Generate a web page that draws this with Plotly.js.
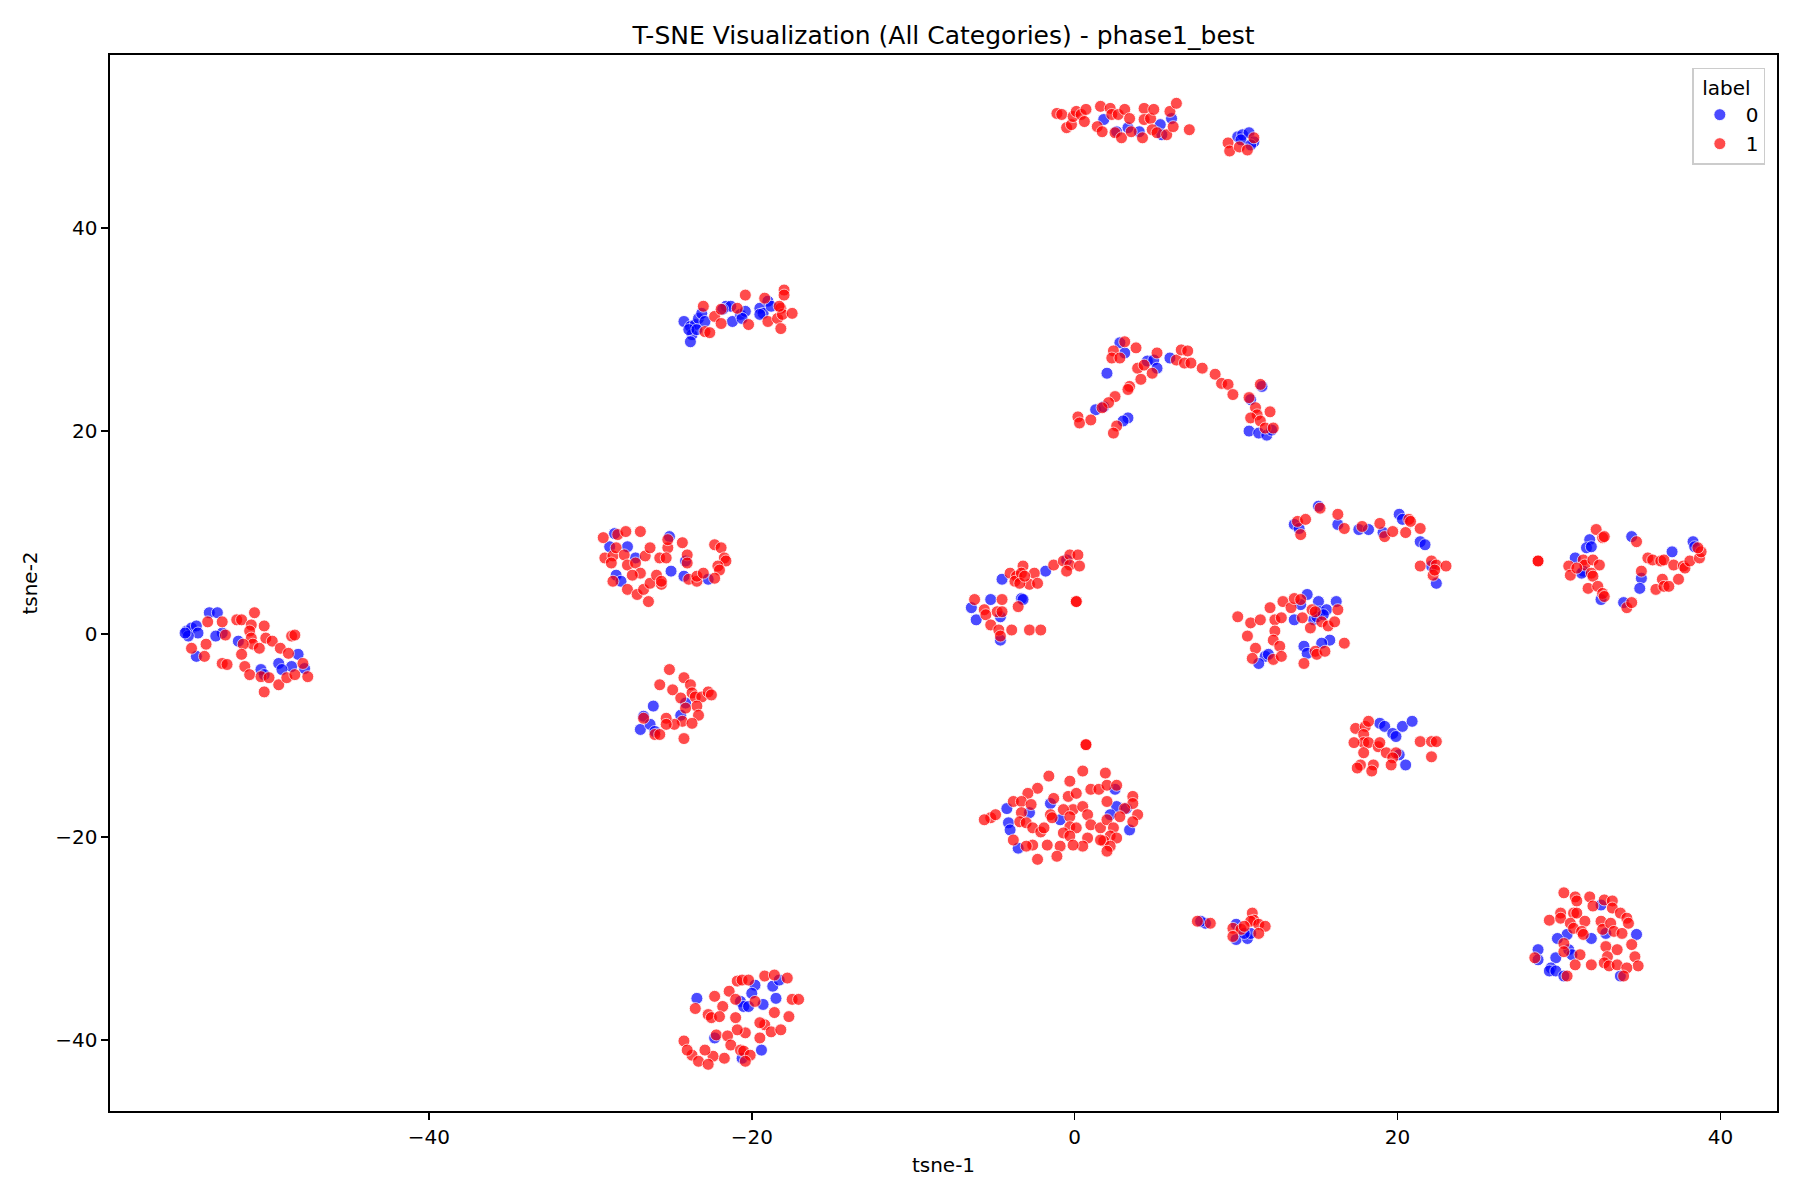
<!DOCTYPE html>
<html>
<head>
<meta charset="utf-8">
<script src="https://cdn.plot.ly/plotly-3.0.1.min.js"></script>
<style>
  html, body { margin: 0; padding: 0; background: #ffffff; }
  #tsneChart { width: 1800px; height: 1200px; }
</style>
</head>
<body>
<div id="tsneChart"></div>
<script>
// t-SNE embedding, [tsne-1, tsne-2] per point
var label0Points = [
    // left group
    [-53.6, 2.1], [-53.1, 2.1], [-55.0, 0.3], [-54.7, 0.6], [-54.4, 0.8], [-54.3, 0.1], [-54.9, -0.2], [-55.1, 0.1],
    [-52.8, 0.1], [-53.2, -0.2], [-51.8, -0.7], [-54.4, -2.2], [-50.4, -3.5], [-49.3, -2.9], [-48.5, -3.2], [-48.1, -2.0],
    [-47.7, -3.4], [-49.1, -3.5], [-50.2, -4.0],
    // (-20, 31)
    [-24.2, 30.8], [-23.8, 30.3], [-23.5, 30.5], [-23.3, 31.1], [-23.1, 31.6], [-22.9, 30.8], [-23.7, 29.5], [-23.8, 28.8],
    [-23.9, 30.0], [-23.4, 30.0], [-21.6, 32.3], [-21.3, 32.3], [-21.8, 32.0], [-21.2, 30.8], [-20.7, 31.5], [-20.4, 31.8],
    [-20.6, 31.1], [-19.5, 32.1], [-19.3, 31.6], [-19.0, 32.8], [-18.8, 32.3], [-19.5, 31.5],
    // (-25, 7)
    [-28.5, 9.9], [-28.8, 8.6], [-27.7, 8.6], [-27.2, 7.5], [-28.4, 5.8], [-28.1, 5.2], [-25.1, 9.6], [-25.0, 6.2],
    [-24.2, 5.7], [-22.7, 5.4], [-24.1, 7.2],
    // (-25, -8)
    [-26.1, -7.1], [-26.7, -8.1], [-26.9, -9.4], [-26.3, -8.9], [-24.1, -6.8], [-24.4, -8.0], [-26.0, -9.6],
    // (-20, -38)
    [-23.4, -35.9], [-22.3, -39.8], [-19.8, -34.6], [-20.0, -35.4], [-20.7, -36.2], [-20.5, -36.7], [-20.2, -36.7],
    [-19.3, -36.5], [-18.7, -34.7], [-18.5, -35.9], [-18.3, -34.1], [-19.4, -41.0], [-20.6, -41.8],
    // top (3, 50) and (10, 48)
    [1.8, 50.7], [2.6, 49.5], [3.3, 49.9], [4.0, 49.5], [5.3, 50.2], [5.4, 49.2], [6.0, 50.8],
    [10.1, 49.0], [10.4, 49.2], [10.8, 49.4], [11.1, 48.5], [10.3, 48.7], [10.9, 48.2],
    // arch (6, 24)
    [2.8, 28.7], [3.1, 27.7], [2.0, 25.7], [1.3, 22.1], [1.8, 22.4], [3.3, 21.3], [3.0, 21.0], [4.5, 26.9], [4.9, 27.0],
    [5.1, 26.2], [5.9, 27.2], [11.6, 24.4], [10.9, 23.1], [10.8, 20.0], [11.4, 19.8], [11.9, 19.6], [12.2, 20.1],
    // (-3, 4)
    [-4.5, 5.4], [-1.8, 6.2], [-0.5, 7.3], [-6.4, 2.6], [-6.1, 1.4], [-5.2, 3.4], [-4.6, 1.7], [-3.3, 3.5], [-3.2, 3.4],
    [-4.6, -0.6],
    // (14, 0)
    [14.4, 3.9], [15.1, 3.2], [15.2, 2.2], [15.6, 2.4], [16.2, 3.2], [14.0, 2.9], [13.6, 1.4], [14.8, 1.4], [15.0, 1.7],
    [15.4, 1.9], [15.8, -0.6], [15.3, -0.9], [14.2, -1.2], [14.4, -1.9], [11.8, -2.2], [12.0, -2.0], [11.4, -2.9],
    // (0, -18)
    [-4.2, -17.2], [-4.1, -18.6], [-4.0, -19.3], [-3.5, -21.1], [-2.8, -17.6], [-1.5, -16.7], [-0.9, -18.3], [2.5, -15.3],
    [2.6, -17.0], [2.2, -17.8], [3.4, -19.3], [3.2, -17.2],
    // (10, -29)
    [8.1, -28.5], [7.8, -28.3], [10.0, -28.6], [10.0, -30.1], [10.7, -30.0], [10.9, -29.5], [10.5, -29.5],
    // arc (18, 10)
    [13.6, 10.8], [13.9, 10.4], [15.1, 12.6], [16.3, 10.8], [17.6, 10.3], [18.2, 10.3], [19.1, 10.0], [20.1, 11.8],
    [20.3, 11.3], [21.4, 9.1], [21.7, 8.8], [22.4, 5.0], [22.1, 6.7],
    // (19, -11)
    [18.9, -8.8], [19.2, -9.1], [19.7, -9.8], [19.9, -10.1], [20.3, -9.1], [20.9, -8.6], [20.1, -11.9], [20.5, -12.9],
    // (34, 6)
    [31.9, 9.3], [31.7, 8.5], [32.0, 8.6], [31.0, 7.5], [31.5, 6.2], [31.4, 6.0], [32.6, 3.4], [34.0, 3.1], [34.5, 9.6],
    [35.1, 5.5], [35.0, 4.5], [37.0, 8.1], [38.3, 9.1], [38.4, 8.6],
    // (32, -30)
    [32.6, -26.7], [32.0, -30.0], [32.9, -29.5], [34.8, -29.6], [30.5, -29.6], [29.9, -30.0], [30.6, -31.1], [30.8, -31.6],
    [29.8, -31.9], [28.7, -31.1], [28.7, -32.1], [29.5, -32.9], [29.4, -33.2], [29.8, -33.2], [30.3, -33.7], [33.8, -33.7]
];

var label1Points = [
    // left group
    [-51.9, 1.4], [-51.6, 1.4], [-50.8, 2.1], [-52.8, 1.2], [-53.7, 1.2], [-51.0, 0.9], [-50.2, 0.8], [-51.1, 0.3],
    [-51.0, -0.4], [-50.9, -1.0], [-50.5, -1.4], [-50.1, -0.4], [-49.7, -0.7], [-49.2, -1.4], [-48.7, -1.9], [-48.5, -0.2],
    [-48.3, -0.1], [-51.5, -1.0], [-51.6, -2.0], [-51.4, -3.2], [-51.1, -4.0], [-50.4, -4.2], [-49.9, -4.3], [-49.3, -5.0],
    [-50.2, -5.7], [-48.8, -4.3], [-48.3, -4.0], [-47.5, -4.2], [-47.8, -2.9], [-52.8, -2.9], [-52.5, -3.0], [-53.8, -1.0],
    [-53.9, -2.2], [-54.7, -1.4], [-52.6, -0.1],
    // (-20, 31)
    [-23.0, 32.3], [-22.9, 29.8], [-22.6, 29.7], [-22.3, 31.3], [-21.9, 30.6], [-21.9, 32.0], [-20.4, 33.4], [-20.2, 30.5],
    [-19.2, 33.1], [-19.0, 30.8], [-18.4, 31.1], [-18.2, 32.1], [-18.1, 31.5], [-18.0, 33.9], [-18.0, 33.4], [-17.5, 31.6],
    [-18.2, 30.1], [-18.3, 32.3], [-20.9, 32.1],
    // (-25, 7)
    [-29.2, 9.5], [-28.3, 9.8], [-27.8, 10.1], [-26.9, 10.1], [-29.1, 7.5], [-28.6, 7.7], [-28.7, 7.0], [-28.4, 8.5],
    [-27.9, 7.8], [-27.7, 6.8], [-27.2, 7.0], [-26.9, 6.0], [-26.6, 7.7], [-26.3, 8.5], [-27.4, 5.8], [-28.6, 5.2],
    [-27.7, 4.4], [-27.1, 3.9], [-26.4, 3.2], [-26.7, 4.4], [-26.3, 5.0], [-25.9, 5.8], [-25.6, 4.9], [-25.7, 7.5],
    [-25.2, 8.5], [-25.2, 9.3], [-25.3, 7.5], [-24.3, 9.0], [-24.0, 7.8], [-24.0, 7.0], [-23.9, 5.4], [-23.4, 5.2],
    [-23.4, 5.7], [-23.0, 6.0], [-22.3, 8.8], [-21.9, 8.5], [-21.7, 7.5], [-21.6, 7.2], [-22.1, 6.7], [-22.0, 6.3],
    [-22.3, 5.5], [-25.6, 5.2],
    // (-25, -8)
    [-25.1, -3.5], [-25.7, -5.0], [-24.9, -5.5], [-24.2, -4.3], [-23.8, -5.0], [-23.7, -5.8], [-23.5, -6.2], [-23.1, -6.2],
    [-22.7, -5.7], [-22.5, -6.0], [-23.4, -7.1], [-23.3, -8.0], [-24.4, -6.3], [-24.1, -7.3], [-24.3, -8.6], [-24.8, -8.9],
    [-25.3, -8.3], [-25.3, -8.9], [-26.0, -9.9], [-25.7, -9.9], [-26.7, -8.3], [-23.7, -8.8], [-24.2, -10.3],
    // (-20, -38)
    [-23.5, -36.9], [-22.3, -35.7], [-22.7, -37.5], [-22.5, -37.8], [-21.8, -36.7], [-21.4, -35.2], [-20.9, -34.2],
    [-20.6, -34.1], [-20.2, -34.1], [-19.2, -33.7], [-18.6, -33.6], [-17.8, -33.9], [-17.5, -36.0], [-17.1, -36.0],
    [-19.8, -36.2], [-21.0, -37.8], [-22.0, -37.7], [-18.6, -37.3], [-17.7, -37.7], [-19.2, -38.5], [-19.5, -38.3],
    [-18.8, -39.2], [-18.2, -39.0], [-19.5, -39.8], [-20.4, -39.3], [-20.9, -39.0], [-22.2, -39.5], [-21.5, -39.6],
    [-21.3, -40.5], [-20.7, -41.0], [-20.5, -41.1], [-20.1, -41.5], [-21.7, -41.8], [-22.4, -41.6], [-22.9, -41.0],
    [-23.7, -41.5], [-24.2, -40.1], [-24.0, -41.0], [-23.3, -42.1], [-22.7, -42.4], [-20.4, -42.1], [-21.0, -36.0],
    // top (3, 50) and (10, 48)
    [-1.1, 51.3], [-0.8, 51.2], [-0.5, 49.9], [-0.2, 50.2], [-0.1, 51.0], [0.1, 51.5], [0.4, 51.2], [0.7, 51.7],
    [0.6, 50.5], [1.4, 50.0], [1.6, 52.0], [1.7, 49.5], [2.2, 51.8], [2.3, 51.2], [2.5, 49.4], [2.7, 51.2], [2.9, 48.9],
    [3.1, 51.7], [3.4, 50.8], [3.5, 49.5], [4.2, 48.9], [4.3, 51.8], [4.3, 50.7], [4.7, 50.8], [4.9, 51.7], [4.8, 49.7],
    [5.1, 49.4], [5.7, 49.2], [5.9, 51.5], [6.1, 50.0], [6.3, 52.3], [7.1, 49.7],
    [9.5, 48.4], [9.6, 47.6], [10.2, 48.0], [10.7, 47.7], [11.1, 48.9],
    // arch (6, 24)
    [2.4, 27.9], [2.3, 27.2], [2.8, 27.2], [3.1, 28.8], [3.8, 28.2], [3.9, 26.2], [4.3, 26.5], [4.8, 25.7], [5.1, 27.7],
    [4.1, 25.1], [3.4, 24.4], [3.3, 24.1], [2.5, 23.4], [2.1, 22.8], [1.7, 22.3], [0.2, 21.4], [0.3, 20.8], [1.0, 21.1],
    [2.6, 20.5], [2.4, 19.8], [6.3, 27.0], [6.6, 28.0], [7.0, 27.9], [6.8, 26.7], [7.2, 26.7], [7.9, 26.2], [8.7, 25.6],
    [9.1, 24.7], [9.5, 24.6], [9.8, 23.6], [10.8, 23.3], [11.2, 22.3], [11.3, 21.6], [12.1, 21.9], [11.5, 24.6],
    [10.9, 21.3], [11.5, 21.0], [11.8, 20.3], [12.3, 20.3],
    // (-3, 4)
    [-6.2, 3.4], [-5.6, 2.4], [-5.5, 1.9], [-4.8, 2.2], [-4.5, 2.2], [-4.5, 3.4], [-5.2, 0.9], [-4.7, 0.4], [-4.6, -0.2],
    [-4.0, 6.0], [-3.6, 5.7], [-3.7, 5.2], [-3.2, 6.7], [-3.3, 6.0], [-2.8, 4.9], [-2.5, 6.0], [-2.3, 5.0], [-1.3, 6.8],
    [-0.7, 7.2], [-0.3, 7.8], [0.2, 7.8], [-0.3, 6.8], [-0.5, 6.2], [0.3, 6.7], [-3.5, 2.7], [-3.9, 0.4], [-2.8, 0.4],
    [-2.1, 0.4], [0.1, 3.2], [0.1, 3.2], [-3.4, 5.0], [-3.1, 5.7],
    // (14, 0)
    [10.1, 1.7], [10.9, 1.1], [11.5, 1.4], [12.1, 2.6], [12.4, 1.4], [12.8, 1.6], [12.9, 3.2], [13.4, 2.6], [13.6, 3.5],
    [14.0, 3.4], [14.1, 1.6], [14.7, 2.4], [14.9, 2.2], [15.3, 1.2], [15.7, 0.8], [16.1, 1.2], [16.3, 2.4], [14.6, 0.6],
    [12.4, 0.3], [10.7, -0.2], [12.3, -0.6], [12.7, -1.2], [11.2, -1.4], [11.0, -2.4], [12.3, -2.5], [12.8, -2.2],
    [14.2, -2.9], [14.9, -1.7], [15.0, -2.0], [15.5, -1.7], [16.7, -0.9],
    // (0, -18)
    [0.7, -10.9], [0.7, -10.9], [0.5, -13.5], [1.9, -13.7], [-1.6, -14.0], [-0.3, -14.5], [-2.3, -15.2], [-2.9, -15.7],
    [1.0, -15.3], [1.5, -15.3], [2.0, -14.9], [2.6, -14.9], [3.6, -16.0], [3.6, -16.7], [3.9, -17.8], [3.6, -18.5],
    [3.1, -17.2], [-3.8, -16.5], [-3.3, -16.5], [-2.7, -16.8], [-1.3, -16.2], [-0.4, -16.0], [0.1, -15.7], [-0.1, -17.3],
    [0.5, -17.0], [0.8, -17.8], [2.0, -16.5], [-5.2, -18.1], [-5.6, -18.3], [-4.9, -17.8], [-3.3, -17.6], [-3.4, -18.5],
    [-3.0, -18.6], [-2.6, -19.1], [-2.1, -19.5], [-1.5, -17.8], [-1.4, -18.1], [-0.7, -17.3], [-0.3, -18.0], [-0.3, -19.0],
    [0.1, -19.1], [-0.7, -19.6], [-0.3, -19.9], [1.0, -18.8], [1.6, -19.1], [2.0, -18.3], [2.4, -19.1], [2.2, -19.9],
    [2.6, -20.1], [1.8, -20.4], [2.2, -20.9], [2.0, -21.4], [1.6, -20.3], [0.8, -20.1], [0.5, -20.9], [-0.1, -20.8],
    [-0.9, -20.9], [-1.7, -20.8], [-2.6, -20.8], [-3.0, -20.9], [-2.3, -22.2], [-1.1, -21.9], [-3.8, -20.3], [2.8, -18.0],
    [-1.9, -19.1],
    // (10, -29)
    [7.6, -28.3], [8.4, -28.5], [9.8, -29.0], [10.3, -29.1], [11.0, -27.5], [11.1, -28.2], [10.9, -28.3], [11.4, -28.6],
    [11.8, -28.8], [11.4, -29.5], [9.8, -29.8], [10.5, -28.8],
    // arc (18, 10)
    [13.8, 11.1], [14.3, 11.3], [14.0, 9.8], [15.2, 12.4], [16.3, 11.8], [16.7, 10.4], [17.8, 10.6], [18.9, 10.9],
    [19.2, 9.6], [19.7, 10.1], [20.5, 10.0], [20.7, 11.3], [20.8, 11.1], [21.4, 10.4], [21.4, 6.7], [22.1, 7.2],
    [22.4, 6.8], [23.0, 6.7], [22.2, 5.8], [22.3, 6.3],
    // (19, -11)
    [17.4, -9.3], [18.0, -9.1], [18.2, -8.6], [17.9, -9.9], [17.9, -10.7], [17.3, -10.7], [18.2, -10.7], [17.9, -11.7],
    [18.8, -11.1], [18.9, -10.7], [19.3, -11.7], [19.9, -11.7], [19.7, -12.2], [17.7, -12.9], [17.5, -13.2], [18.5, -12.9],
    [18.4, -13.5], [19.6, -12.9], [21.4, -10.6], [22.1, -10.6], [22.4, -10.6], [22.1, -12.1],
    // (34, 6)
    [28.7, 7.2], [28.7, 7.2], [32.3, 10.3], [32.7, 9.5], [32.8, 9.6], [31.5, 7.3], [31.6, 6.8], [32.1, 7.3], [32.5, 6.8],
    [30.6, 6.7], [30.7, 5.8], [31.1, 6.5], [32.0, 6.0], [32.1, 5.7], [31.8, 4.5], [32.4, 4.7], [32.7, 4.0], [32.8, 3.7],
    [34.2, 2.6], [34.5, 3.1], [34.8, 9.1], [35.1, 6.2], [36.0, 4.4], [36.4, 5.4], [36.5, 4.7], [36.8, 4.7], [37.4, 5.4],
    [35.5, 7.5], [35.8, 7.3], [36.3, 7.2], [36.5, 7.3], [37.1, 6.8], [37.7, 6.7], [37.8, 6.5], [38.1, 7.2], [38.7, 7.5],
    [38.8, 8.1], [38.6, 8.5],
    // (32, -30)
    [30.3, -25.5], [31.0, -25.9], [31.1, -26.3], [31.9, -25.9], [32.1, -26.8], [32.8, -26.2], [33.3, -26.3], [33.3, -27.0],
    [33.8, -27.5], [34.2, -28.0], [34.3, -28.5], [29.4, -28.2], [30.1, -27.5], [30.1, -28.0], [30.9, -27.5], [31.1, -27.5],
    [30.7, -28.5], [30.9, -29.0], [31.6, -28.3], [31.4, -29.3], [31.5, -29.6], [32.6, -28.3], [32.7, -29.1], [33.2, -28.5],
    [33.4, -29.3], [33.9, -29.5], [34.5, -30.6], [32.9, -30.8], [33.6, -31.1], [33.0, -31.8], [32.8, -32.4], [33.1, -32.7],
    [33.6, -32.6], [34.7, -31.8], [34.9, -32.7], [34.2, -32.9], [34.0, -33.7], [32.0, -32.6], [31.3, -31.6], [31.0, -32.6],
    [30.5, -33.7], [28.5, -31.9], [30.3, -30.5], [30.3, -31.3]
];

var seriesLabels = ['0', '1'];
var seriesColors = ['blue', 'red'];

function makeTrace(points, name, color) {
    return {
        x: points.map(p => p[0]),
        y: points.map(p => p[1]),
        type: 'scatter',
        mode: 'markers',
        name: name,
        marker: {
            color: color,
            size: 12,
            opacity: 0.7,
            line: { color: 'white', width: 0.9 }
        }
    };
}

var traces = [
    makeTrace(label0Points, seriesLabels[0], seriesColors[0]),
    makeTrace(label1Points, seriesLabels[1], seriesColors[1])
];

var axisStyle = {
    showgrid: false,
    zeroline: false,
    showline: true,
    mirror: true,
    linecolor: 'black',
    linewidth: 1.6,
    ticks: 'outside',
    ticklen: 7,
    tickwidth: 1.6,
    tickcolor: 'black',
    tickfont: { size: 20, color: 'black' },
    tick0: 0,
    dtick: 20
};

var layout = {
    width: 1800,
    height: 1200,
    font: { family: 'DejaVu Sans, sans-serif', color: 'black' },
    paper_bgcolor: 'white',
    plot_bgcolor: 'white',
    margin: { l: 110, r: 23, t: 55, b: 89 },
    title: {
        text: 'T-SNE Visualization (All Categories) - phase1_best',
        font: { size: 25 },
        xref: 'paper',
        x: 0.5,
        xanchor: 'center',
        y: 1 - 35 / 1200,
        yanchor: 'middle'
    },
    xaxis: Object.assign({}, axisStyle, {
        range: [-59.75, 43.5],
        title: { text: 'tsne-1', font: { size: 20 }, standoff: 10 }
    }),
    yaxis: Object.assign({}, axisStyle, {
        range: [-47.0, 57.06],
        title: { text: 'tsne-2', font: { size: 20 }, standoff: 12 }
    }),
    legend: {
        title: { text: ' label', font: { size: 20 } },
        font: { size: 20 },
        x: 0.993,
        y: 0.988,
        xanchor: 'right',
        yanchor: 'top',
        bgcolor: 'rgba(255,255,255,0.8)',
        bordercolor: '#cccccc',
        borderwidth: 1.5,
        itemwidth: 42,
        tracegroupgap: 4
    },
    showlegend: true
};

Plotly.newPlot('tsneChart', traces, layout, { displayModeBar: false, staticPlot: true });
</script>
</body>
</html>
